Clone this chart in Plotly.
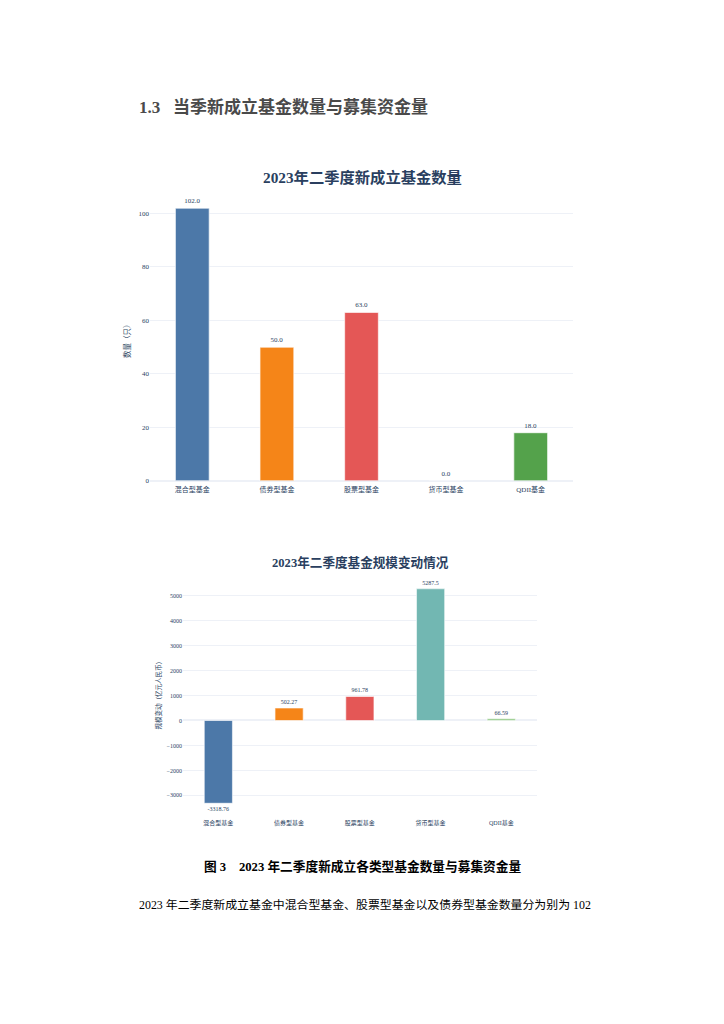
import plotly.graph_objects as go

# ---- data ----
categories = ["混合型基金", "债券型基金", "股票型基金", "货币型基金", "QDII基金"]
fund_counts = [102, 50, 63, 0, 18]
scale_changes = [-3318.76, 502.27, 961.78, 5287.5, 66.59]
bar_colors = ["#4C78A8", "#F58518", "#E45756", "#72B7B2", "#54A24B"]
bar_colors2 = ["#4C78A8", "#F58518", "#E45756", "#72B7B2", "#7CBF6E"]

heading = "1.3   当季新成立基金数量与募集资金量"
title1 = "2023年二季度新成立基金数量"
title2 = "2023年二季度基金规模变动情况"
caption = "图 3    2023 年二季度新成立各类型基金数量与募集资金量"
body = "2023 年二季度新成立基金中混合型基金、股票型基金以及债券型基金数量分为别为 102"

OFF = 8  # default page body margin
W, H = 724 - OFF, 1024 - OFF
FONT = "Liberation Serif, Noto Sans CJK SC, serif"

def px_x(v):
    return (v - OFF) / W

def px_y(v):
    return 1 - (v - OFF) / H

fig = go.Figure()

fig.add_trace(go.Bar(
    x=categories, y=fund_counts,
    marker=dict(color=bar_colors, line=dict(color="rgba(255,255,255,0.6)", width=1.2)),
    text=[f"{v:.1f}" for v in fund_counts], textposition="outside",
    textfont=dict(size=7, color="#2a3f5f", family=FONT),
    cliponaxis=False, xaxis="x", yaxis="y", showlegend=False,
))

fig.add_trace(go.Bar(
    x=categories, y=scale_changes,
    marker=dict(color=bar_colors2, line=dict(color="rgba(255,255,255,0.6)", width=1.2)),
    text=[f"{v:g}" for v in scale_changes], textposition="outside",
    textfont=dict(size=6, color="#2a3f5f", family=FONT),
    cliponaxis=False, xaxis="x2", yaxis="y2", showlegend=False,
))

grid = "#EEF1F7"
fig.update_layout(
    template="plotly_white",
    width=W, height=H,
    margin=dict(l=0, r=0, t=0, b=0),
    paper_bgcolor="white", plot_bgcolor="white",
    font=dict(family=FONT, color="#2a3f5f"),
    bargap=0.6,
    xaxis=dict(domain=[px_x(150), px_x(573)], anchor="y",
               tickfont=dict(size=7, family=FONT), showgrid=False, ticks="",
               ticklabelstandoff=3),
    yaxis=dict(domain=[px_y(482.7), px_y(198.2)], anchor="x", range=[0, 106],
               tickvals=[0, 20, 40, 60, 80, 100], tickfont=dict(size=7, family=FONT),
               gridcolor=grid, zerolinecolor=grid, zerolinewidth=1.5,
               title=dict(text="数量（只）", font=dict(size=7.5, family=FONT), standoff=6)),
    xaxis2=dict(domain=[px_x(183), px_x(536.7)], anchor="y2",
                tickfont=dict(size=6, family=FONT), showgrid=False, ticks="",
                ticklabelstandoff=6),
    yaxis2=dict(domain=[px_y(815), px_y(578)], anchor="x2", range=[-3660, 5800],
                tickvals=[-3000, -2000, -1000, 0, 1000, 2000, 3000, 4000, 5000],
                tickfont=dict(size=6, family=FONT),
                gridcolor=grid, zerolinecolor=grid, zerolinewidth=1.5,
                title=dict(text="规模变动（亿元人民币）", font=dict(size=6.5, family=FONT), standoff=4)),
)

annotations = [
    dict(text=f"<b>{heading}</b>", x=px_x(137), y=px_y(107), xanchor="left", yanchor="middle",
         font=dict(size=17, color="#4a4a4a", family=FONT)),
    dict(text=f"<b>{title1}</b>", x=px_x(362), y=px_y(178), xanchor="center", yanchor="middle",
         font=dict(size=15.3, color="#2a3f5f", family=FONT)),
    dict(text=f"<b>{title2}</b>", x=px_x(360), y=px_y(565), xanchor="center", yanchor="middle",
         font=dict(size=12.6, color="#2a3f5f", family=FONT)),
    dict(text=f"<b>{caption}</b>", x=px_x(362), y=px_y(870), xanchor="center", yanchor="middle",
         font=dict(size=12.7, color="#000000", family=FONT)),
    dict(text=body, x=px_x(137), y=px_y(909), xanchor="left", yanchor="middle",
         font=dict(size=11.9, color="#000000", family=FONT)),
]
for a in annotations:
    a.update(xref="paper", yref="paper", showarrow=False)
fig.update_layout(annotations=annotations)

fig.write_html("out.html")
